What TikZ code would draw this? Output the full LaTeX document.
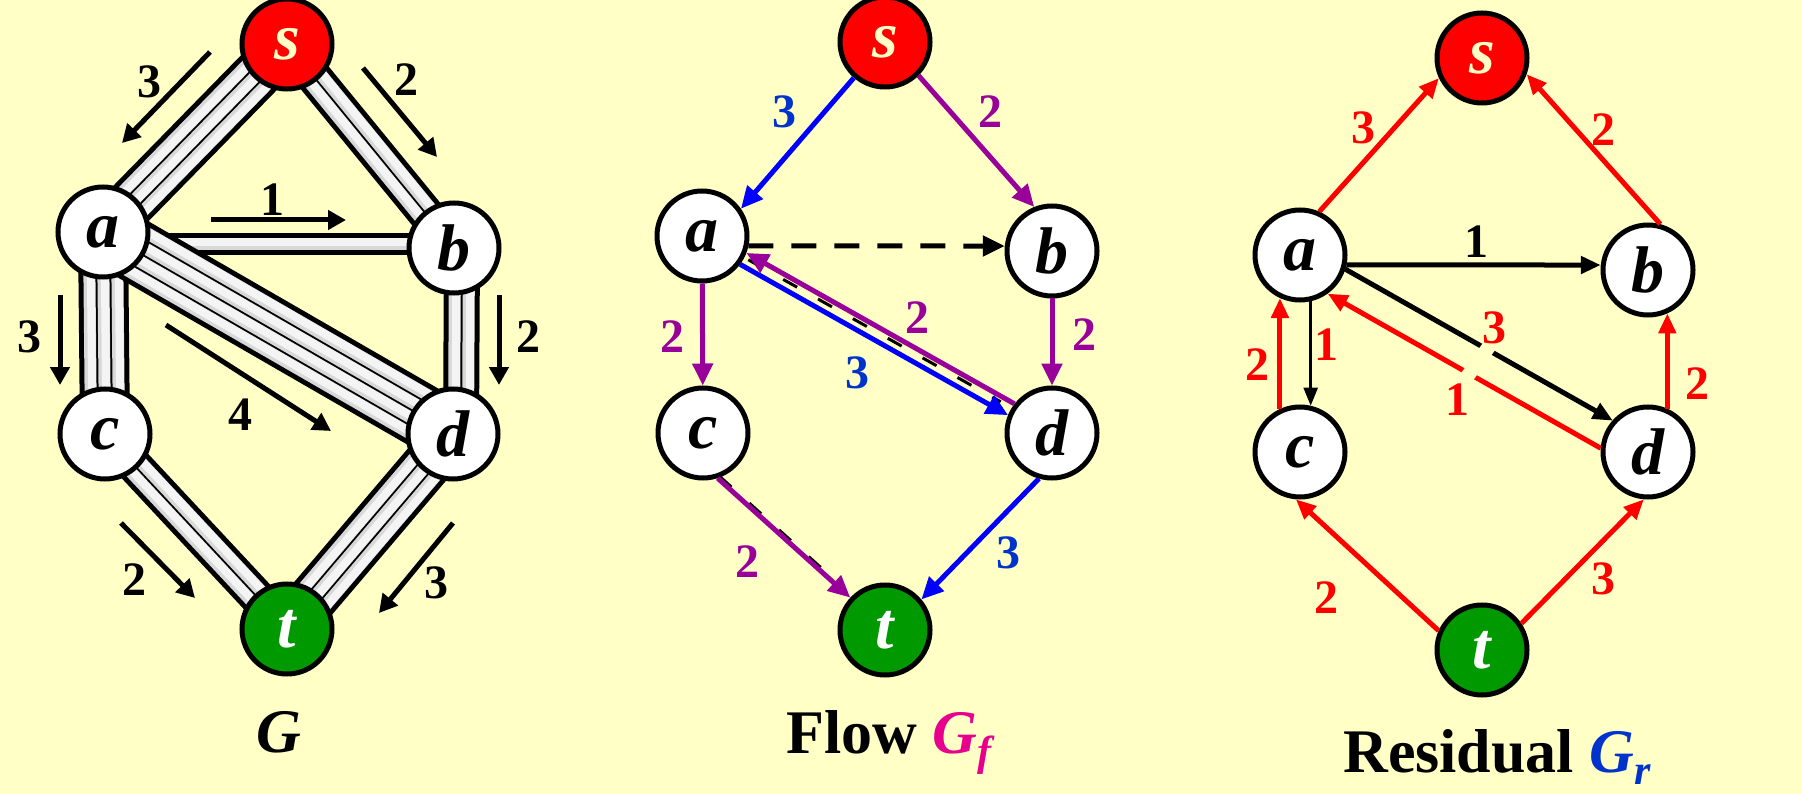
\documentclass[tikz,border=0pt]{standalone}
\usepackage{fontspec}
\setmainfont{Liberation Serif}
\usetikzlibrary{arrows.meta,calc,backgrounds}
\definecolor{bg}{HTML}{FFFFC6}
\definecolor{sred}{HTML}{FF0000}
\definecolor{tgreen}{HTML}{009900}
\definecolor{fpurple}{HTML}{990099}
\definecolor{fblue}{HTML}{0000FF}
\definecolor{lblue}{HTML}{0033CC}
\definecolor{gmag}{HTML}{E6008C}
\definecolor{pipegray}{HTML}{D8D8D8}
\definecolor{pipelight}{HTML}{F4F4F4}
\newcommand{\drawpipe}[3]{%
  \pgfmathsetmacro{\pw}{#3*14+8}%
  \draw[line width=\pw pt, black] (#1) -- (#2);
  \foreach \k in {1,...,#3}{%
    \pgfmathsetmacro{\oc}{(\k-(#3+1)/2)*14}%
    \pgfmathsetmacro{\ow}{\oc+1.5}%
    \draw[line width=12pt, pipegray] ($(#1)!\oc pt!90:(#2)$) -- ($(#2)!\oc pt!-90:(#1)$);
    \draw[line width=8pt, pipelight] ($(#1)!\ow pt!90:(#2)$) -- ($(#2)!\ow pt!-90:(#1)$);
  }%
}
\tikzset{
  vtx/.style={circle, draw=black, line width=5pt, fill=white, minimum size=90pt, inner sep=0pt,
    font=\fontsize{66}{66}\selectfont\bfseries\itshape},
  src/.style={vtx, fill=sred, text=bg},
  snk/.style={vtx, fill=tgreen, text=white},
  lab/.style={font=\fontsize{48}{48}\selectfont\bfseries, inner sep=0pt},
  ttl/.style={font=\fontsize{62}{62}\selectfont\bfseries, inner sep=0pt, anchor=base},
  garr/.style={line width=5pt, -{Triangle[length=18pt,width=19pt]}},
  farr/.style={line width=5pt, -{Triangle[length=22pt,width=20pt]}},
  rarr/.style={line width=5pt, sred, -{Triangle[length=20pt,width=17pt]}},
}
\begin{document}
\begin{tikzpicture}[x=1pt,y=-1pt]
\useasboundingbox (0,0) rectangle (1802,794);
% ---------- panel 1 : G ----------
\node[src] (s1) at (287,44) {s};
\node[vtx] (a1) at (103,232) {a};
\node[vtx] (b1) at (454,248) {b};
\node[vtx] (c1) at (105,434) {c};
\node[vtx] (d1) at (453,434) {d};
\node[snk] (t1) at (287,629) {t};
\coordinate (pab1) at ($(a1.center)+(0,12)$);
\coordinate (pab2) at ($(b1.center)+(0,-4)$);
\coordinate (pbd1) at ($(b1.center)+(8,0)$);
\coordinate (pbd2) at ($(d1.center)+(8,0)$);
\begin{scope}[on background layer]
  \fill[bg] (0,0) rectangle (1802,794);
  \drawpipe{s1.center}{a1.center}{3}
  \drawpipe{s1.center}{b1.center}{2}
  \drawpipe{pab1}{pab2}{1}
  \drawpipe{a1.center}{c1.center}{3}
  \drawpipe{pbd1}{pbd2}{2}
  \drawpipe{a1.center}{d1.center}{4}
  \drawpipe{c1.center}{t1.center}{2}
  \drawpipe{d1.center}{t1.center}{3}
\end{scope}
% capacity arrows
\draw[garr] (210,52) -- (122,143);
\node[lab] (l1sa) at (149,82) {3};
\draw[garr] (363,68) -- (437,157);
\node[lab] (l1sb) at (406,80) {2};
\draw[garr] (211,220) -- (346,220);
\node[lab] (l1ab) at (272,200) {1};
\draw[garr] (60,295) -- (60,385);
\node[lab] (l1ac) at (29,337) {3};
\draw[garr] (499,295) -- (499,385);
\node[lab] (l1bd) at (528,337) {2};
\draw[garr] (166,325) -- (331,431);
\node[lab] (l1ad) at (240,415) {4};
\draw[garr] (121,523) -- (195,598);
\node[lab] (l1ct) at (134,580) {2};
\draw[garr] (453,523) -- (379,613);
\node[lab] (l1dt) at (436,583) {3};
\node[ttl, font=\fontsize{62}{62}\selectfont\bfseries\itshape] (g1) at (279,752) {G};
% ---------- panel 2 : Flow ----------
\node[src] (s2) at (885,42) {s};
\node[vtx] (a2) at (702,236) {a};
\node[vtx] (b2) at (1052,251) {b};
\node[vtx] (c2) at (703,433) {c};
\node[vtx] (d2) at (1052,433) {d};
\node[snk] (t2) at (885,630) {t};
\draw[farr, fblue] (s2.229) -- (a2.35);
\node[lab, text=lblue] (l2sa) at (784,112) {3};
\draw[farr, fpurple] (s2.315) -- (b2.112);
\node[lab, text=fpurple] (l2sb) at (990,112) {2};
\draw[farr, black, dash pattern=on 25pt off 18pt] (a2.-12) -- (b2.174);
\draw[farr, fpurple] (a2) -- (c2);
\node[lab, text=fpurple] (l2ac) at (672,337) {2};
\draw[farr, fpurple] (b2) -- (d2);
\node[lab, text=fpurple] (l2bd) at (1084,335) {2};
\coordinate (ad2a) at ($(a2.center)!6pt!-90:(d2.center)$);
\coordinate (ad2d) at ($(d2.center)!6pt!90:(a2.center)$);
\coordinate (ad2ka) at ($(a2.center)!2pt!90:(d2.center)$);
\coordinate (ad2kd) at ($(d2.center)!2pt!-90:(a2.center)$);
\coordinate (da2a) at ($(a2.center)!7pt!90:(d2.center)$);
\coordinate (da2d) at ($(d2.center)!7pt!-90:(a2.center)$);
\draw[line width=3pt, black, dash pattern=on 16pt off 24pt, shorten <=52pt, shorten >=60pt] (ad2ka) -- (ad2kd);
\draw[farr, fblue, shorten <=47pt, shorten >=47pt] (ad2a) -- (ad2d);
\node[lab, text=lblue] (l2ad) at (857,373) {3};
\draw[farr, fpurple, shorten <=47pt, shorten >=47pt] (da2d) -- (da2a);
\node[lab, text=fpurple] (l2da) at (917,318) {2};
\coordinate (ct2k1) at ($(c2.288)+(1.5,-1.5)$);
\coordinate (ct2k2) at ($(t2.137)+(1.5,-1.5)$);
\draw[line width=4pt, black, dash pattern=on 16pt off 24pt, shorten >=30pt] (ct2k1) -- (ct2k2);
\draw[farr, fpurple] (c2.288) -- (t2.137);
\node[lab, text=fpurple] (l2ct) at (747,562) {2};
\draw[farr, fblue] (d2.254) -- (t2.40);
\node[lab, text=lblue] (l2dt) at (1008,553) {3};
\node[ttl] (g2) at (889,753) {Flow \textcolor{gmag}{\itshape G\raisebox{-12pt}{\fontsize{42}{42}\selectfont f}}};
% ---------- panel 3 : Residual ----------
\node[src] (s3) at (1482,58) {s};
\node[vtx] (a3) at (1300,255) {a};
\node[vtx] (b3) at (1648,270) {b};
\node[vtx] (c3) at (1300,452) {c};
\node[vtx] (d3) at (1648,452) {d};
\node[snk] (t3) at (1482,650) {t};
\draw[rarr] (a3.66) -- (s3.205);
\node[lab, text=sred] (l3as) at (1363,128) {3};
\draw[rarr] (b3.75) -- (s3.-20);
\node[lab, text=sred] (l3bs) at (1603,130) {2};
\draw[line width=5pt, black, -{Triangle[length=20pt,width=17pt]}] (a3.-12) -- (b3.174);
\node[lab] (l3ab) at (1476,242) {1};
\draw[line width=2.5pt, black, -{Triangle[length=18pt,width=14pt]}] (a3.-77) -- (c3.77);
\node[lab, text=sred] (l3ac) at (1326,345) {1};
\draw[rarr] (c3.115) -- (a3.245);
\node[lab, text=sred] (l3ca) at (1257,365) {2};
\coordinate (ad3a) at ($(a3.center)!10pt!90:(d3.center)$);
\coordinate (ad3d) at ($(d3.center)!10pt!-90:(a3.center)$);
\coordinate (da3a) at ($(a3.center)!20pt!-90:(d3.center)$);
\coordinate (da3d) at ($(d3.center)!20pt!90:(a3.center)$);
\draw[line width=5pt, black, -{Triangle[length=20pt,width=17pt]}, shorten <=46pt, shorten >=46pt] (ad3a) -- (ad3d);
\draw[rarr, shorten <=43pt, shorten >=43pt] (da3d) -- (da3a);
\coordinate (gap1) at (1493,341);
\coordinate (gap2) at (1464,381);
\draw[bg, line width=14pt] (gap1) -- (gap2);
\node[lab, text=sred] (l3ad) at (1494,328) {3};
\node[lab, text=sred] (l3da) at (1457,400) {1};
\draw[rarr] (d3.66) -- (b3.294);
\node[lab, text=sred] (l3db) at (1697,384) {2};
\draw[rarr] (t3.156) -- (c3.265);
\node[lab, text=sred] (l3tc) at (1326,598) {2};
\draw[rarr] (t3.34) -- (d3.265);
\node[lab, text=sred] (l3td) at (1603,579) {3};
\node[ttl] (g3) at (1497,772) {Residual \textcolor{lblue}{\itshape G\raisebox{-12pt}{\fontsize{42}{42}\selectfont r}}};
\end{tikzpicture}
\end{document}
